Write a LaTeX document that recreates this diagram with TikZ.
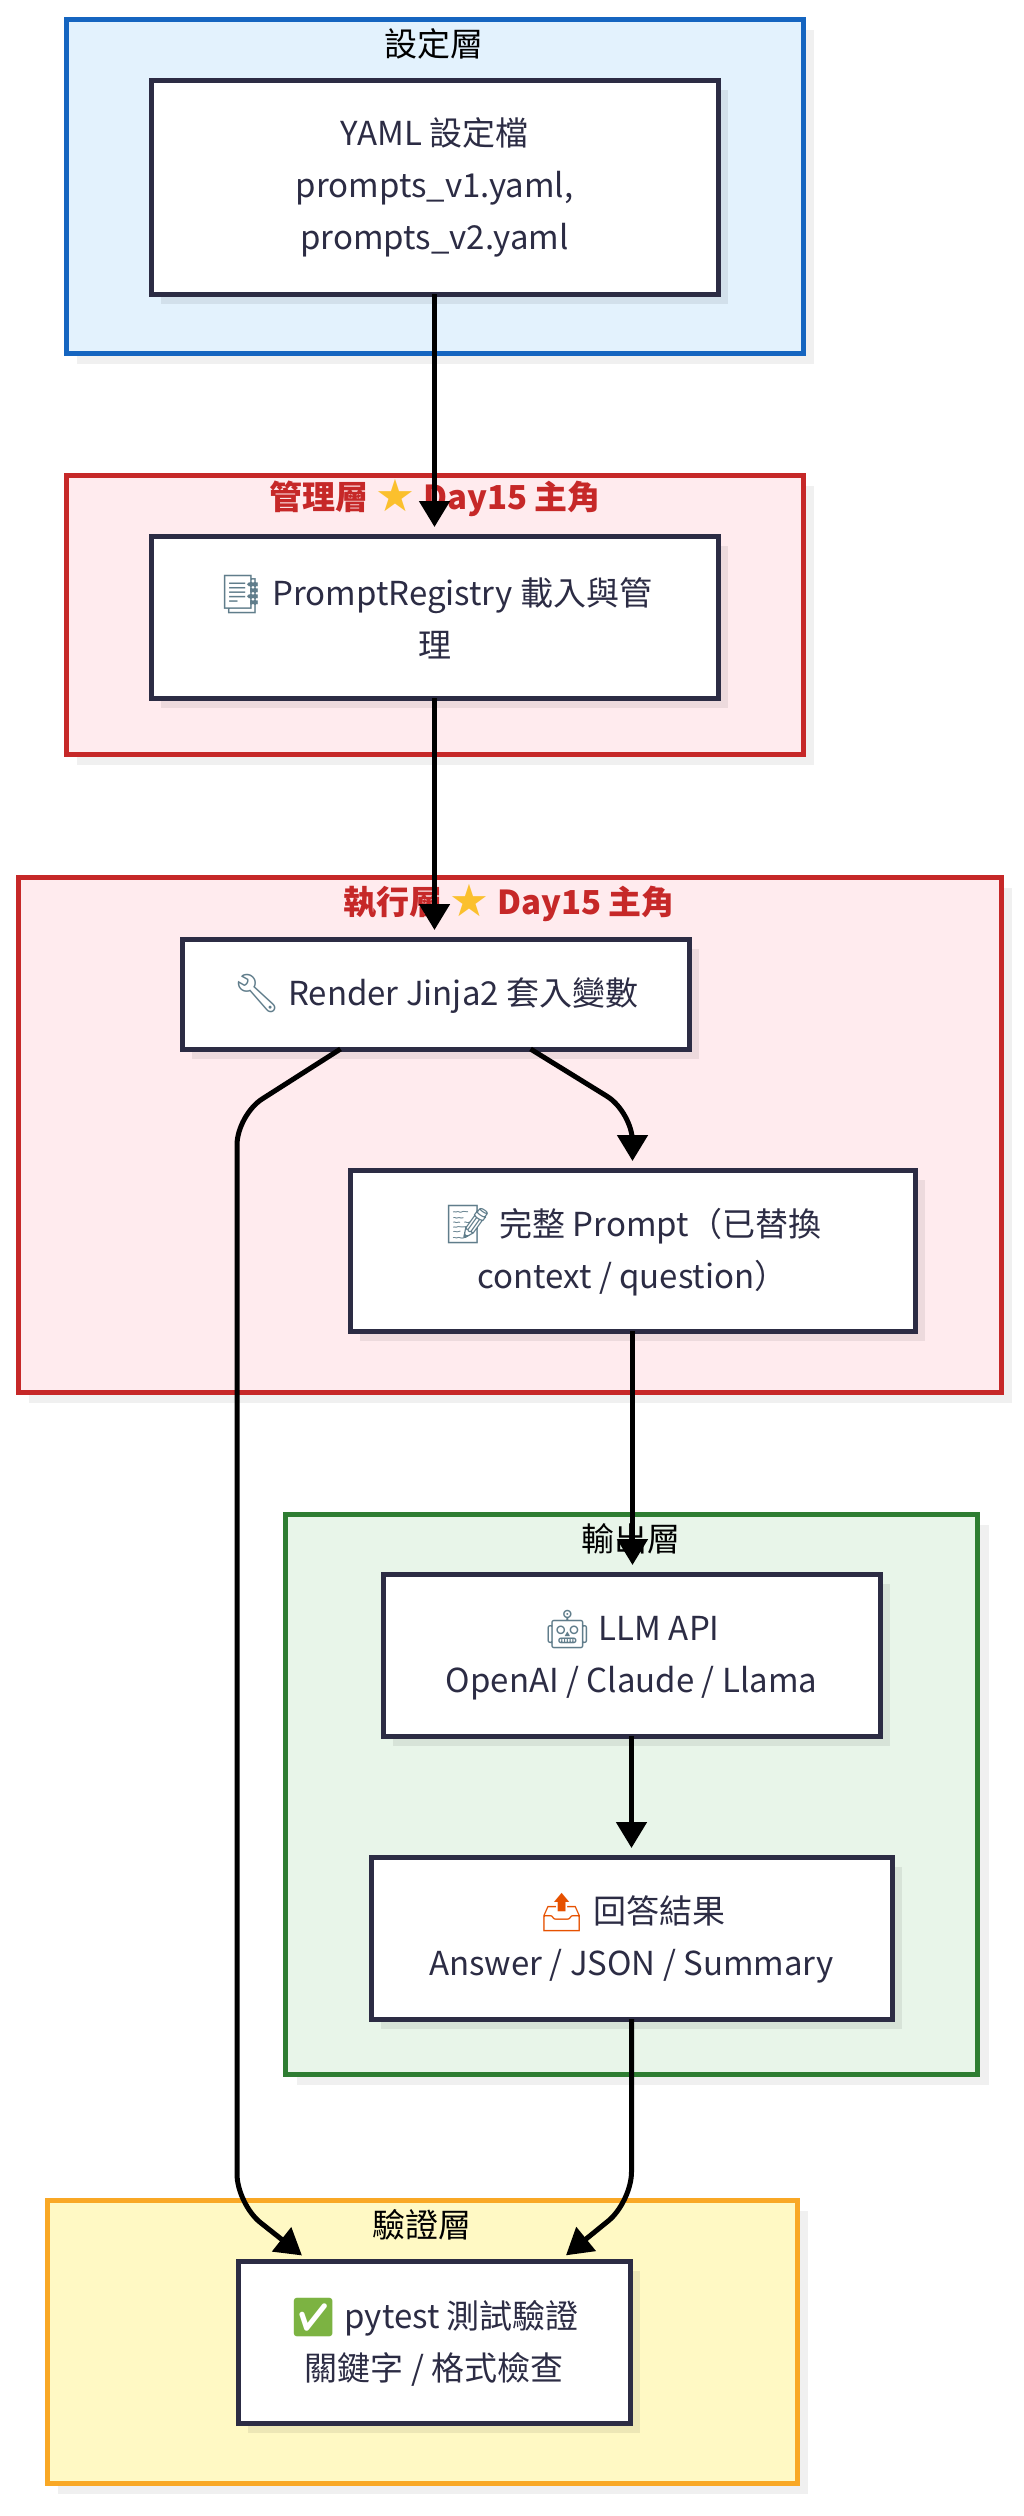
\documentclass[tikz,border=0pt]{standalone}
\usepackage{fontspec}
\usepackage{graphicx}
\setmainfont{Noto Sans CJK TC}
\newfontfamily\emo{Noto Emoji}
\newfontfamily\symf{DejaVu Sans}
\usetikzlibrary{arrows.meta,shadows}
\definecolor{fblue}{HTML}{E3F2FD}
\definecolor{cblue}{HTML}{1565C0}
\definecolor{fred}{HTML}{FFEBEE}
\definecolor{cred}{HTML}{C62828}
\definecolor{fgreen}{HTML}{E8F5E9}
\definecolor{cgreen}{HTML}{2E7D32}
\definecolor{fyellow}{HTML}{FFF9C4}
\definecolor{cyellow}{HTML}{F9A825}
\definecolor{nborder}{HTML}{2C2C44}
\definecolor{ntext}{HTML}{2C2C44}
\definecolor{stargold}{HTML}{FBC02D}
\definecolor{okgreen}{HTML}{7CB342}
\definecolor{emogray}{HTML}{607D8B}
\definecolor{emoorange}{HTML}{E65100}
\newcommand{\goldstar}{\raisebox{-0.08em}{\scalebox{1.35}{\symf\color{stargold}★}}}
\newcommand{\emj}[2]{\raisebox{-0.05em}{\scalebox{1.15}{\emo\color{#1}#2}}}
\tikzset{
  cluster/.style={line width=5pt, inner sep=0pt, outer sep=0pt,
    drop shadow={shadow xshift=11pt, shadow yshift=-11pt, fill=black, opacity=0.06}},
  nodebox/.style={draw=nborder, line width=5pt, fill=white, inner sep=0pt, outer sep=0pt,
    align=center, text=ntext, font=\fontsize{33}{52}\selectfont,
    drop shadow={shadow xshift=10pt, shadow yshift=-10pt, fill=black, opacity=0.07}},
  ctitle/.style={font=\fontsize{33}{40}\selectfont, text=black, inner sep=0pt},
  rtitle/.style={font=\fontsize{33}{40}\selectfont\bfseries, text=cred, inner sep=0pt},
  flow/.style={draw=black, line width=5pt, rounded corners=30pt,
    -{Triangle[length=26pt,width=30pt]}, shorten >=9pt}
}
\begin{document}
\begin{tikzpicture}[x=1pt,y=-1pt]
\useasboundingbox (0,0) rectangle (1024,2516);
\fill[white] (0,0) rectangle (1024,2516);

% clusters
\node[cluster, draw=cblue, fill=fblue, minimum width=737pt, minimum height=334pt] (c1) at (434.5,186) {};
\node[cluster, draw=cred, fill=fred, minimum width=737pt, minimum height=279pt] (c2) at (434.5,614.5) {};
\node[cluster, draw=cred, fill=fred, minimum width=983pt, minimum height=515pt] (c3) at (509.5,1134.5) {};
\node[cluster, draw=cgreen, fill=fgreen, minimum width=692pt, minimum height=560pt] (c4) at (631.5,1794) {};
\node[cluster, draw=cyellow, fill=fyellow, minimum width=750pt, minimum height=283pt] (c5) at (422,2341.5) {};

% cluster titles
\node[ctitle] (t1) at (434,44) {設定層};
\node[rtitle] (t2) at (435,498) {管理層 \goldstar{} Day15 主角};
\node[rtitle] (t3) at (509,903) {執行層 \goldstar{} Day15 主角};
\node[ctitle] (t4) at (631,1539) {輸出層};
\node[ctitle] (t5) at (422,2225) {驗證層};

% nodes
\node[nodebox, minimum width=567pt, minimum height=214pt] (yaml) at (434.5,187)
  {YAML 設定檔\\prompts\_v1.yaml,\\prompts\_v2.yaml};
\node[nodebox, minimum width=567pt, minimum height=162pt] (reg) at (434.5,617)
  {\emj{emogray}{📑} PromptRegistry 載入與管\\理};
\node[nodebox, minimum width=507pt, minimum height=110pt] (render) at (435.5,994)
  {\emj{emogray}{🔧} Render Jinja2 套入變數};
\node[nodebox, minimum width=565pt, minimum height=161pt] (prompt) at (632.5,1250.5)
  {\emj{emogray}{📝} 完整 Prompt（已替換\\context / question）};
\node[nodebox, minimum width=497pt, minimum height=162pt] (llm) at (631.5,1655)
  {\emj{emogray}{🤖} LLM API\\OpenAI / Claude / Llama};
\node[nodebox, minimum width=521pt, minimum height=162pt] (answer) at (631.5,1938)
  {\emj{emoorange}{📤} 回答結果\\Answer / JSON / Summary};
\node[nodebox, minimum width=392pt, minimum height=162pt] (pytest) at (434,2342)
  {\emj{okgreen}{✅} pytest 測試驗證\\關鍵字 / 格式檢查};

% connectors
\draw[flow] (yaml.south) -- (yaml.south |- reg.north);
\draw[flow] (reg.south) -- (reg.south |- render.north);
\draw[flow] ([xshift=-95pt]render.south) -- (237,1115) -- (237,2204) -- ([xshift=-125pt]pytest.north);
\draw[flow] ([xshift=95pt]render.south) -- (632.5,1112) -- (prompt.north);
\draw[flow] (prompt.south) -- (prompt.south |- llm.north);
\draw[flow] (llm.south) -- (answer.north);
\draw[flow] (answer.south) -- (631.5,2202) -- ([xshift=125pt]pytest.north);
\end{tikzpicture}
\end{document}
